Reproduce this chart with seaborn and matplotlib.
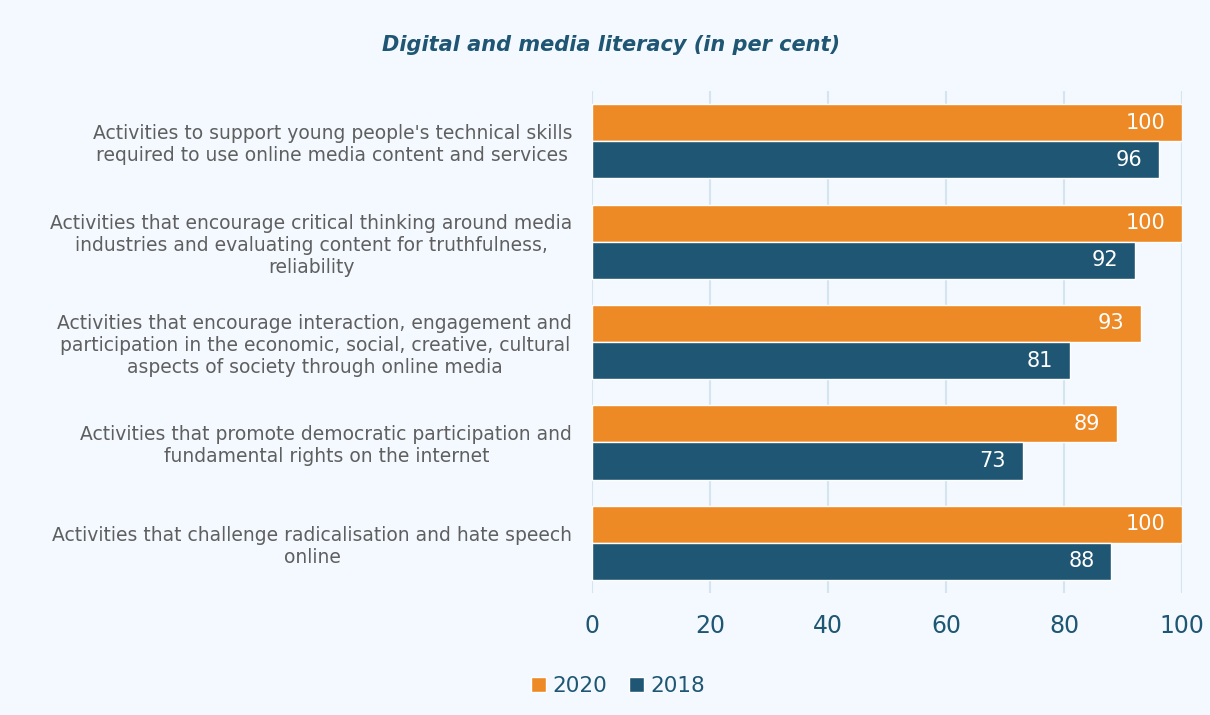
import pandas as pd
import matplotlib
matplotlib.use("Agg")
import matplotlib.pyplot as plt
import seaborn as sns
from matplotlib.patches import Patch

categories = [
    "Activities to support young people's technical skills\nrequired to use online media content and services",
    "Activities that encourage critical thinking around media\nindustries and evaluating content for truthfulness,\nreliability",
    "Activities that encourage interaction, engagement and\nparticipation in the economic, social, creative, cultural\naspects of society through online media",
    "Activities that promote democratic participation and\nfundamental rights on the internet",
    "Activities that challenge radicalisation and hate speech\nonline",
]
values_2020 = [100, 100, 93, 89, 100]
values_2018 = [96, 92, 81, 73, 88]
years = ["2020", "2018"]

ORANGE = "#EE8A25"
NAVY = "#1F5673"
BG = "#F3F9FE"

df = pd.DataFrame({
    "category": categories * 2,
    "value": values_2020 + values_2018,
    "year": ["2020"] * len(categories) + ["2018"] * len(categories),
})

sns.set_theme(style="white")
plt.rcParams["font.family"] = ["DejaVu Sans"]

fig = plt.figure(figsize=(12.1, 7.15), dpi=100, facecolor=BG)
ax = fig.add_axes([0.489, 0.1706, 0.488, 0.702])
ax.set_facecolor(BG)

sns.barplot(data=df, x="value", y="category", hue="year", hue_order=years,
            palette={"2020": ORANGE, "2018": NAVY}, orient="h",
            width=0.74, saturation=1, legend=False, ax=ax)

# value labels inside the bar ends
for cont in ax.containers:
    ax.bar_label(cont, labels=[f"{int(v)}" for v in cont.datavalues],
                 padding=-12, color="white", fontsize=15)
    for t in ax.texts[-len(cont.datavalues):]:
        t.set_ha("right")

ax.set_xlim(0, 100)
ax.set_ylim(4.5, -0.5)
ax.set_xticks(range(0, 101, 20))
ax.xaxis.grid(True, color="#D6E4F0", linewidth=1.5)
ax.set_axisbelow(True)
for s in ax.spines.values():
    s.set_visible(False)
ax.tick_params(axis="x", length=0, pad=15, labelsize=17, labelcolor=NAVY)
ax.tick_params(axis="y", length=0, pad=14)
ax.set_xlabel("")
ax.set_ylabel("")
for lab in ax.get_yticklabels():
    lab.set_multialignment("center")
    lab.set_fontsize(13.5)
    lab.set_color("#5F5F5F")
    lab.set_linespacing(1.2)

fig.text(0.505, 0.937, "Digital and media literacy (in per cent)", ha="center", va="center",
         fontsize=15, fontweight="bold", fontstyle="italic", color=NAVY)

handles = [Patch(facecolor=ORANGE, label="2020"), Patch(facecolor=NAVY, label="2018")]
fig.legend(handles=handles, loc="center", bbox_to_anchor=(0.511, 0.04), ncol=2,
           frameon=False, fontsize=15.5, labelcolor=NAVY, handlelength=0.7,
           handleheight=0.7, handletextpad=0.3, columnspacing=1.0)

fig.savefig("out.png", dpi=100, facecolor=BG)
